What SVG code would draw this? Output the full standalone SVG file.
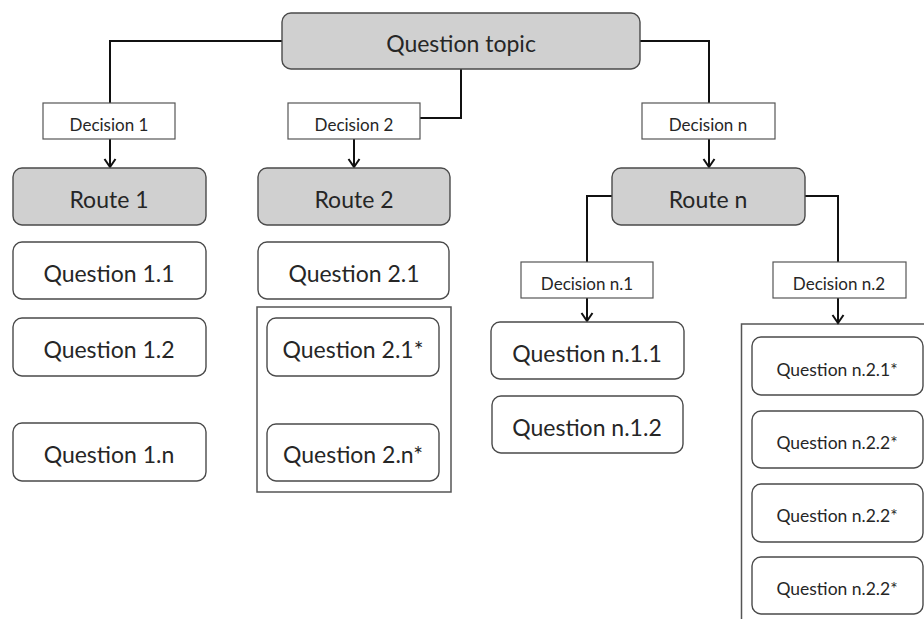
<svg xmlns="http://www.w3.org/2000/svg" width="924" height="619" viewBox="0 0 924 619">
<style>
.bg{fill:#ffffff}
.main{fill:#d0d0d0;stroke:#4a4a4a;stroke-width:1.4}
.q{fill:#ffffff;stroke:#4a4a4a;stroke-width:1.4}
.dec{fill:#ffffff;stroke:#555;stroke-width:1.2}
.cont{fill:none;stroke:#555;stroke-width:1.5}
.conn{fill:none;stroke:#111;stroke-width:2;stroke-linejoin:miter}
text{font-family:Lato,"Open Sans","Liberation Sans",sans-serif;fill:#262626;text-anchor:middle}
.big{font-size:23px}
.small{font-size:17px}
.mid{font-size:17.5px}
</style>
<defs>
<marker id="arr" markerUnits="userSpaceOnUse" viewBox="-1 -7 11 14" refX="8" refY="0" markerWidth="11" markerHeight="14" orient="auto">
<path d="M0,-5.5 L8,0 L0,5.5" fill="none" stroke="#111" stroke-width="2"/>
</marker>
</defs>
<rect class="bg" x="0" y="0" width="924" height="619"/>

<g id="containers">
<rect class="cont" x="257" y="307" width="194" height="185"/>
<path class="cont" d="M924,324 H741.5 V619"/>
</g>

<g id="connectors">
<path class="conn" d="M282,41 H110 V103"/>
<path class="conn" d="M461,69 V118 H420"/>
<path class="conn" d="M640,41 H709 V103"/>
<path class="conn" d="M612,196 H587 V262"/>
<path class="conn" d="M805,196 H838 V262"/>
<path class="conn" d="M110,139 V167" marker-end="url(#arr)"/>
<path class="conn" d="M354,139 V167" marker-end="url(#arr)"/>
<path class="conn" d="M709,139 V167" marker-end="url(#arr)"/>
<path class="conn" d="M587,298 V321" marker-end="url(#arr)"/>
<path class="conn" d="M838,298 V323" marker-end="url(#arr)"/>
</g>

<g id="topic"><rect class="main" x="282" y="13" width="358" height="56" rx="9"/><text class="big" x="461" y="52">Question topic</text></g>

<g id="decision1"><rect class="dec" x="43" y="103" width="132" height="36"/><text class="small" x="109" y="131">Decision 1</text></g>
<g id="decision2"><rect class="dec" x="288" y="103" width="132" height="36"/><text class="small" x="354" y="131">Decision 2</text></g>
<g id="decisionn"><rect class="dec" x="642" y="103" width="133" height="36"/><text class="small" x="708" y="131">Decision n</text></g>

<g id="route1"><rect class="main" x="13" y="168" width="193" height="57" rx="9"/><text class="big" x="109" y="208">Route 1</text></g>
<g id="route2"><rect class="main" x="258" y="168" width="192" height="57" rx="9"/><text class="big" x="354" y="208">Route 2</text></g>
<g id="routen"><rect class="main" x="612" y="168" width="193" height="57" rx="9"/><text class="big" x="708" y="208">Route n</text></g>

<g id="q11"><rect class="q" x="13" y="242" width="193" height="57" rx="9"/><text class="big" x="109" y="282">Question 1.1</text></g>
<g id="q12"><rect class="q" x="13" y="318" width="193" height="58" rx="9"/><text class="big" x="109" y="358">Question 1.2</text></g>
<g id="q1n"><rect class="q" x="13" y="423" width="193" height="58" rx="9"/><text class="big" x="109" y="463">Question 1.n</text></g>

<g id="q21"><rect class="q" x="258" y="242" width="191" height="57" rx="9"/><text class="big" x="354" y="282">Question 2.1</text></g>
<g id="q21s"><rect class="q" x="267" y="318" width="172" height="58" rx="9"/><text class="big" x="353" y="358">Question 2.1*</text></g>
<g id="q2ns"><rect class="q" x="267" y="424" width="172" height="57" rx="9"/><text class="big" x="353" y="463">Question 2.n*</text></g>

<g id="decisionn1"><rect class="dec" x="521" y="262" width="132" height="36"/><text class="small" x="587" y="290">Decision n.1</text></g>
<g id="decisionn2"><rect class="dec" x="773" y="262" width="133" height="36"/><text class="small" x="839" y="290">Decision n.2</text></g>

<g id="qn11"><rect class="q" x="491" y="322" width="193" height="57" rx="9"/><text class="big" x="587" y="362">Question n.1.1</text></g>
<g id="qn12"><rect class="q" x="492" y="396" width="191" height="57" rx="9"/><text class="big" x="587" y="436">Question n.1.2</text></g>

<g id="qn21s"><rect class="q" x="752" y="337" width="171" height="58" rx="9"/><text class="mid" x="837" y="376">Question n.2.1*</text></g>
<g id="qn22s-a"><rect class="q" x="752" y="411" width="171" height="57" rx="9"/><text class="mid" x="837" y="449">Question n.2.2*</text></g>
<g id="qn22s-b"><rect class="q" x="752" y="484" width="171" height="58" rx="9"/><text class="mid" x="837" y="522">Question n.2.2*</text></g>
<g id="qn22s-c"><rect class="q" x="752" y="557" width="171" height="57" rx="9"/><text class="mid" x="837" y="595">Question n.2.2*</text></g>
</svg>
